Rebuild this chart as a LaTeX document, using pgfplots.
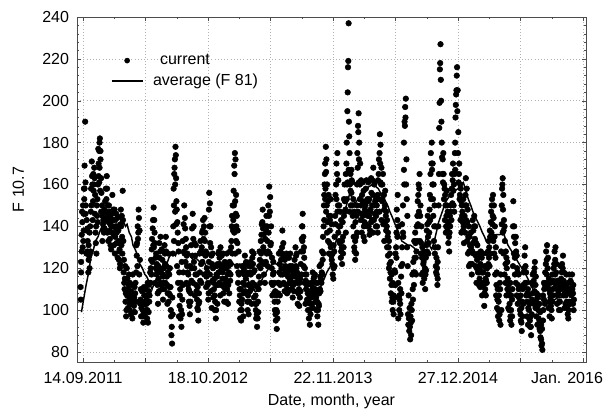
\documentclass[border=0pt]{standalone}
\usepackage{fontspec}
\setmainfont{Liberation Sans}
\usepackage{pgfplots}
\usepackage{pgfplotstable}
\pgfplotsset{compat=1.18}
\pgfplotstableread{
d v
-8 111
-6 118
-4 128
-2 142
0 150
2 146
3 158
5 169
7 190
9 150
12 143
15 133
18 124
21 120
24 128
27 150
30 160
33 165
36 168
39 155
42 140
45 145
48 160
50 170
52 176
53 180
54 182
56 172
58 163
61 150
64 141
67 137
70 145
73 158
76 164
79 150
82 142
85 138
88 131
91 140
94 155
97 148
100 143
103 135
106 146
109 140
112 132
115 124
118 120
121 148
124 145
127 157
130 118
133 110
136 104
139 100
142 115
145 110
148 106
151 103
154 98
157 112
160 108
163 102
166 99
169 104
172 126
175 140
178 148
181 138
184 105
187 101
190 97
193 94
196 107
199 103
202 100
205 96
208 94
211 109
214 113
217 120
220 129
223 139
226 149
229 137
232 125
235 117
238 112
241 121
244 132
247 128
250 118
253 110
256 105
259 120
262 127
265 135
268 116
271 108
274 104
277 111
280 111
283 88
285 84
287 98
290 158
292 165
294 172
296 178
298 163
300 148
303 137
306 128
309 102
312 96
315 92
318 105
321 118
324 150
327 139
330 130
333 121
336 112
339 104
342 98
345 108
348 120
351 146
354 140
357 132
360 117
363 109
366 101
369 95
372 104
375 114
378 122
381 137
384 143
387 140
390 133
393 128
396 120
399 112
402 108
404 156
406 151
408 140
410 130
413 122
416 120
419 110
422 100
425 96
428 112
431 122
434 118
437 125
440 130
443 121
446 115
449 108
452 104
455 115
458 120
461 110
464 103
467 118
470 128
473 122
476 140
479 150
482 157
484 169
486 175
488 172
490 155
492 145
495 138
498 128
501 110
504 100
506 95
509 105
512 113
515 120
518 126
521 115
524 108
527 100
530 98
533 112
536 123
539 121
542 125
545 118
548 112
551 103
554 96
557 92
560 104
563 116
566 124
569 133
572 141
575 148
578 136
581 128
584 140
587 145
590 133
593 150
596 159
599 154
602 140
605 125
608 117
611 108
614 100
617 95
620 91
623 104
626 113
629 122
632 128
635 120
638 138
641 132
644 126
647 118
650 112
653 108
656 116
659 125
662 121
665 114
668 110
671 106
674 118
677 124
680 130
683 120
686 113
689 108
692 102
695 115
698 128
701 140
703 146
705 135
708 125
711 117
714 110
717 105
720 100
723 96
726 93
729 108
732 112
735 118
738 115
741 110
744 104
747 100
750 97
753 93
756 108
759 116
762 122
765 128
768 135
771 150
773 160
775 170
777 178
779 172
781 160
784 152
787 145
790 138
793 130
796 124
799 117
802 120
805 135
808 155
811 170
814 175
817 162
820 150
823 140
826 128
829 122
832 135
835 145
838 152
841 165
844 180
846 195
847 204
848 216
849 219
850 237
851 190
853 175
856 165
859 156
862 150
865 140
868 130
871 124
874 135
876 150
878 175
880 188
882 194
884 180
887 170
890 162
893 155
896 145
899 140
902 148
905 158
908 152
911 145
914 140
917 136
920 148
923 156
926 162
929 168
932 160
935 152
938 145
941 140
944 162
947 172
950 184
952 179
955 168
958 160
961 155
964 148
967 142
970 138
973 130
976 126
979 120
982 115
985 108
988 104
991 100
994 98
997 106
1000 112
1003 125
1006 135
1009 96
1012 100
1015 110
1018 116
1021 130
1024 150
1027 180
1029 190
1031 197
1033 201
1035 172
1038 145
1041 93
1044 90
1047 86
1050 88
1053 95
1056 105
1059 112
1062 118
1065 125
1068 140
1071 152
1074 160
1077 165
1080 150
1083 140
1086 130
1089 122
1092 115
1095 110
1098 119
1101 128
1104 135
1107 142
1110 155
1113 175
1116 180
1119 170
1122 160
1125 150
1128 140
1131 125
1134 112
1136 130
1138 150
1140 187
1141 199
1142 215
1143 218
1144 227
1146 200
1148 180
1151 172
1154 165
1157 158
1160 150
1163 145
1166 138
1169 132
1172 128
1175 140
1178 155
1181 165
1184 170
1187 160
1190 175
1192 192
1194 203
1196 212
1197 216
1199 205
1201 185
1204 170
1207 160
1210 152
1213 145
1216 138
1219 132
1222 150
1225 163
1228 158
1231 148
1234 140
1237 135
1240 128
1243 122
1246 128
1249 138
1252 145
1255 140
1258 132
1261 124
1264 118
1267 112
1270 120
1273 128
1276 125
1279 118
1282 112
1285 108
1288 115
1291 120
1294 127
1297 122
1300 130
1303 135
1306 147
1309 153
1312 155
1315 150
1318 140
1321 130
1324 118
1327 110
1330 104
1333 98
1336 93
1339 100
1341 158
1343 163
1345 155
1347 143
1350 133
1353 128
1356 120
1359 115
1362 108
1365 103
1368 97
1371 93
1374 110
1377 152
1380 140
1383 132
1386 128
1389 120
1392 112
1395 106
1398 100
1401 95
1404 90
1407 110
1410 118
1413 126
1416 121
1419 113
1422 108
1425 101
1428 96
1431 92
1434 88
1437 105
1440 112
1443 118
1446 123
1449 116
1452 108
1455 102
1458 96
1461 91
1464 87
1467 83
1470 81
1473 100
1476 110
1479 118
1482 128
1485 131
1488 125
1491 115
1494 108
1497 102
1500 96
1503 110
1506 120
1509 128
1512 130
1515 122
1518 114
1521 108
1524 104
1527 100
1530 115
1533 122
1536 126
1539 118
1542 112
1545 107
1548 104
1551 98
1554 100
1557 110
1560 114
1563 107
1566 110
1569 112
1571 105
}\current
\pgfplotstableread{
d v
-7 105
-4 136
-1 130
2 138
5 158
8 146
11 138
14 128
17 118
20 126
23 140
26 158
29 164
32 152
35 160
38 146
41 132
44 150
47 142
50 164
53 168
56 176
59 156
62 145
65 138
68 148
71 152
74 144
77 158
80 146
83 150
86 134
89 144
92 146
95 140
98 136
101 148
104 140
107 132
110 144
113 138
116 128
119 122
122 140
125 135
128 143
131 124
134 115
137 108
140 120
143 104
146 112
149 100
152 108
155 104
158 96
161 112
164 106
167 108
170 118
173 132
176 134
179 144
182 124
185 110
188 104
191 100
194 98
197 103
200 110
203 105
206 100
209 112
212 104
215 118
218 124
221 134
224 143
227 130
230 132
233 120
236 122
239 108
242 115
245 125
248 135
251 112
254 124
257 116
260 110
263 122
266 128
269 112
272 118
275 108
278 120
281 100
284 92
286 106
289 140
291 150
293 168
295 160
297 174
299 152
302 142
305 132
308 118
311 110
314 100
317 98
320 112
323 128
326 144
329 134
332 126
335 118
338 110
341 102
344 104
347 114
350 126
353 134
356 120
359 126
362 112
365 105
368 100
371 108
374 118
377 128
380 130
383 138
386 134
389 144
392 126
395 116
398 118
401 105
403 148
405 140
407 132
411 126
414 114
417 106
420 115
423 104
426 100
429 116
432 112
435 128
438 122
441 112
444 126
447 118
450 112
453 120
456 110
459 104
462 122
465 112
468 108
471 114
474 130
477 145
480 138
483 150
485 165
487 152
489 146
491 140
494 132
497 118
500 104
503 96
505 110
508 100
511 118
514 108
517 112
520 122
523 118
526 104
529 112
532 104
535 118
538 110
541 128
544 122
547 106
550 112
553 100
556 98
559 96
562 110
565 128
568 120
571 136
574 142
577 130
580 122
583 134
586 138
589 140
592 128
595 145
598 147
601 132
604 120
607 112
610 118
613 104
616 98
619 100
622 96
625 108
628 118
631 112
634 124
637 130
640 126
643 120
646 124
649 112
652 118
655 110
658 120
661 115
664 120
667 116
670 112
673 112
676 120
679 116
682 126
685 118
688 114
691 110
694 106
697 122
700 134
702 140
704 128
707 130
710 120
713 114
716 112
719 108
722 104
725 100
728 98
731 106
734 110
737 108
740 116
743 110
746 106
749 104
752 100
755 102
758 110
761 115
764 118
767 124
770 140
772 155
774 165
776 158
778 166
780 150
783 142
786 155
789 132
792 145
795 126
798 122
801 115
804 128
807 145
810 160
813 165
816 150
819 140
822 132
825 125
828 130
831 142
834 130
837 160
840 148
843 170
845 160
852 183
854 160
857 150
860 162
863 145
866 135
869 128
872 142
875 145
877 160
879 168
881 185
883 172
886 160
889 150
892 146
895 152
898 135
901 142
904 150
907 162
910 140
913 152
916 145
919 138
922 142
925 150
928 155
931 150
934 146
937 140
940 150
943 155
946 165
949 175
951 170
954 160
957 152
960 165
963 155
966 150
969 145
972 140
975 135
978 130
981 122
984 118
987 112
990 106
993 104
996 112
999 118
1002 130
1004 148
1007 155
1010 140
1013 105
1016 98
1019 108
1022 122
1025 135
1028 160
1030 188
1032 192
1034 160
1037 130
1040 98
1043 96
1046 92
1049 94
1052 100
1055 110
1058 118
1061 125
1064 132
1067 128
1070 145
1073 155
1076 158
1079 145
1082 132
1085 125
1088 118
1091 128
1094 120
1097 125
1100 138
1103 145
1106 132
1109 148
1112 165
1115 170
1118 160
1121 145
1124 140
1127 130
1130 118
1133 120
1135 115
1137 140
1139 165
1145 210
1147 190
1150 165
1153 175
1156 160
1159 155
1162 140
1165 150
1168 142
1171 135
1174 145
1177 150
1180 158
1183 162
1186 150
1189 165
1191 180
1193 198
1195 205
1198 195
1200 175
1203 165
1206 155
1209 158
1212 150
1215 142
1218 140
1221 145
1224 155
1227 150
1230 142
1233 135
1236 128
1239 122
1242 130
1245 122
1248 132
1251 140
1254 134
1257 126
1260 120
1263 125
1266 118
1269 115
1272 122
1275 118
1278 112
1281 118
1284 102
1287 110
1290 114
1293 120
1296 128
1299 125
1302 138
1305 142
1308 150
1311 145
1314 144
1317 135
1320 125
1323 112
1326 105
1329 100
1332 95
1335 110
1338 128
1340 150
1342 160
1344 148
1346 138
1349 140
1352 122
1355 125
1358 110
1361 112
1364 100
1367 95
1370 100
1373 105
1376 140
1379 135
1382 125
1385 135
1388 126
1391 118
1394 110
1397 104
1400 98
1403 94
1406 104
1409 112
1412 120
1415 130
1418 118
1421 104
1424 110
1427 100
1430 95
1433 92
1436 98
1439 108
1442 114
1445 120
1448 112
1451 104
1454 106
1457 100
1460 94
1463 90
1466 86
1469 84
1472 95
1475 105
1478 112
1481 122
1484 124
1487 120
1490 110
1493 104
1496 106
1499 100
1502 104
1505 114
1508 122
1511 124
1514 118
1517 110
1520 112
1523 100
1526 104
1529 110
1532 118
1535 120
1538 114
1541 108
1544 110
1547 112
1550 102
1553 96
1556 104
1559 108
1562 110
1565 104
1568 108
1570 100
}\currentb
\pgfplotstableread{
d v
-6 123
-3 147
1 133
4 153
8 161
11 127
14 139
18 131
21 137
25 147
28 171
31 143
34 157
37 163
40 137
43 127
46 153
49 177
52 161
55 157
58 147
62 133
65 143
69 139
72 147
75 153
78 137
81 133
84 147
87 141
90 129
93 137
96 143
99 131
102 127
105 139
108 137
111 125
114 133
117 129
120 141
123 131
126 127
129 133
132 113
135 121
138 97
141 107
144 101
147 117
150 113
153 109
156 103
159 117
162 99
165 111
168 113
171 131
174 121
177 137
180 117
183 103
186 97
189 109
192 103
195 111
198 97
201 107
204 103
207 113
210 99
213 107
216 113
219 117
222 123
225 131
228 143
231 113
234 127
237 119
240 103
243 109
246 119
249 113
252 129
255 117
258 113
261 131
264 113
267 121
270 103
273 127
276 117
279 107
282 97
288 127
291 133
295 147
298 141
301 121
304 113
307 97
310 107
313 113
316 123
319 133
322 141
325 127
328 123
331 113
334 127
337 117
340 109
343 121
346 131
349 139
352 113
355 123
358 107
361 131
364 117
367 111
370 103
373 127
376 133
379 113
382 123
385 127
388 117
391 137
394 111
397 127
400 113
403 123
406 117
409 109
412 101
415 127
418 113
421 107
424 121
427 117
430 103
433 127
436 113
439 107
442 119
445 121
448 127
451 111
454 123
457 113
460 127
463 117
466 121
469 123
472 117
475 133
478 127
481 143
484 137
487 127
490 133
493 121
496 113
499 117
502 107
507 103
510 121
513 97
516 117
519 109
522 123
525 117
528 107
531 121
534 109
537 117
540 103
543 113
546 127
549 119
552 107
555 103
558 111
561 99
564 121
567 113
570 127
573 123
576 139
579 117
582 113
585 123
588 127
591 121
594 137
597 127
600 131
603 113
606 107
609 123
612 113
615 109
618 107
621 99
624 113
627 127
630 107
633 117
636 127
639 117
642 113
645 109
648 121
651 127
654 117
657 109
660 113
663 127
666 119
669 121
672 117
675 109
678 113
681 121
684 127
687 103
690 117
693 113
696 109
699 117
702 133
706 121
709 113
712 103
715 117
718 113
721 109
724 107
727 103
730 113
733 103
736 101
739 107
742 117
745 113
748 109
751 113
754 103
757 121
760 109
763 113
766 117
769 127
772 143
775 153
778 147
781 137
784 133
787 127
790 143
793 153
796 141
799 127
802 131
805 121
808 141
811 153
814 147
817 137
820 133
823 147
826 143
829 133
832 127
835 153
838 147
841 137
844 153
847 161
850 167
853 147
856 157
859 167
862 161
865 153
868 147
871 133
874 127
877 137
880 147
883 161
886 153
889 143
892 137
895 161
898 157
901 133
904 141
907 147
910 153
913 161
916 153
919 147
922 163
925 143
928 137
931 143
934 161
937 153
940 147
943 137
946 153
949 147
952 161
955 143
958 153
961 141
964 133
967 157
970 147
973 143
976 137
979 133
982 127
985 123
988 117
991 113
994 107
997 119
1000 127
1003 137
1006 143
1009 113
1012 107
1015 103
1018 121
1021 141
1024 137
1027 167
1036 153
1039 121
1042 107
1045 101
1048 97
1051 103
1054 117
1057 123
1060 133
1063 137
1066 117
1069 133
1072 141
1075 147
1078 133
1081 127
1084 117
1087 113
1090 123
1093 127
1096 117
1099 131
1102 141
1105 127
1108 137
1111 143
1114 153
1117 167
1120 153
1123 133
1126 127
1129 121
1132 117
1135 123
1149 173
1152 161
1155 153
1158 143
1161 137
1164 157
1167 147
1170 141
1173 137
1176 147
1179 143
1182 151
1185 157
1188 147
1191 167
1202 161
1205 153
1208 143
1211 137
1214 147
1217 153
1220 143
1223 137
1226 143
1229 133
1232 127
1235 121
1238 131
1241 137
1244 117
1247 143
1250 127
1253 133
1256 121
1259 113
1262 131
1265 127
1268 121
1271 111
1274 113
1277 107
1280 127
1283 113
1286 121
1289 107
1292 113
1295 117
1298 133
1301 121
1304 127
1307 137
1310 141
1313 133
1316 127
1319 117
1322 107
1325 101
1328 97
1331 107
1334 113
1337 117
1340 141
1343 137
1346 127
1349 117
1352 113
1355 107
1358 123
1361 101
1364 107
1367 113
1370 107
1373 97
1376 121
1379 127
1382 117
1385 113
1388 107
1391 103
1394 117
1397 111
1400 107
1403 101
1406 97
1409 103
1412 111
1415 113
1418 107
1421 97
1424 93
1427 107
1430 103
1433 97
1436 113
1439 117
1442 103
1445 109
1448 101
1451 97
1454 93
1457 107
1460 103
1463 99
1466 93
1469 91
1472 107
1475 113
1478 103
1481 113
1484 117
1487 111
1490 101
1493 97
1496 113
1499 107
1502 117
1505 107
1508 113
1511 117
1514 111
1517 103
1520 107
1523 111
1526 113
1529 121
1532 111
1535 113
1538 107
1541 101
1544 103
1547 117
1550 109
1553 113
1556 117
1559 103
1562 113
1565 117
1568 103
}\currentc
\pgfplotstableread{
d v
-5 99
3 106
10 112
18 118
25 125
32 128
40 133
48 135
55 138
61 140
68 141
75 143
80 142
86 145
93 143
100 143
108 142
114 145
119 144
126 141
130 142
136 140
141 141
148 137
155 135
160 131
167 129
175 126
182 122
190 120
198 117
204 116
210 114
215 112
221 110
228 113
235 115
244 117
253 121
262 123
268 122
275 125
283 127
290 127
296 126
301 128
310 128
320 127
330 127
343 126
352 124
360 125
374 123
386 124
393 121
400 120
410 121
420 121
430 120
440 121
450 122
460 121
470 123
481 122
492 121
502 122
508 120
515 118
522 116
529 114
537 112
545 111
550 109
556 109
566 112
577 116
590 119
600 121
609 123
618 122
630 121
640 122
652 121
662 120
673 119
682 117
690 116
700 115
710 114
720 112
730 111
740 110
752 109
758 110
763 112
772 115
780 118
788 120
796 122
804 128
812 135
822 140
832 144
843 150
854 156
862 153
870 151
880 153
888 155
896 156
905 157
915 159
928 160
937 159
945 158
952 156
960 154
968 152
975 150
982 147
988 145
996 142
1004 139
1012 136
1020 133
1030 132
1040 131
1048 131
1057 130
1064 129
1070 128
1078 127
1084 127
1088 129
1092 131
1096 133
1100 135
1104 133
1108 131
1112 130
1116 129
1124 133
1132 138
1138 142
1145 145
1152 148
1158 151
1166 153
1175 155
1182 156
1190 157
1200 158
1208 160
1217 161
1225 157
1233 153
1241 150
1250 146
1260 143
1270 140
1278 137
1285 135
1290 133
1297 132
1303 133
1310 134
1316 135
1322 136
1333 136
1345 137
1352 134
1360 131
1368 129
1377 127
1388 124
1400 121
1410 119
1420 116
1430 113
1440 110
1448 108
1457 106
1468 105
1480 105
1490 104
1500 105
1510 105
1520 106
1532 106
1538 107
1545 108
1556 109
}\average
\begin{document}
\begin{tikzpicture}
\begin{axis}[
  scale only axis,
  width=381.75pt, height=258.75pt,
  xmin=-19.2, xmax=1609.6,
  ymin=75.2, ymax=240,
  xtick={0,200,...,1600},
  xticklabels={14.09.2011,,18.10.2012,,22.11.2013,,27.12.2014,,},
  extra x ticks={1549},
  extra x tick labels={Jan. 2016},
  extra x tick style={grid=none, major tick length=0pt},
  ytick={80,100,...,240},
  minor x tick num=1,
  minor y tick num=4,
  major tick length=3pt,
  minor tick length=1.5pt,
  tick style={black!70},
  axis line style={black!70},
  grid=major,
  major grid style={dotted, black!30},
  tick label style={font=\fontsize{12}{14}\selectfont},
  /pgf/number format/assume math mode=true,
  xticklabel style={yshift=-4pt},
  yticklabel style={xshift=-2.5pt},
  xlabel={Date, month, year},
  ylabel={F 10.7},
  label style={font=\fontsize{12}{14}\selectfont},
  xlabel style={at={(axis description cs:0.5,0)}, anchor=center, yshift=-29.25pt},
  ylabel style={at={(axis description cs:0,0.5)}, anchor=center, yshift=44pt},
  legend style={draw=none, fill=none, at={(axis description cs:0.066,0.9)}, anchor=north west,
    font=\fontsize{12}{14}\selectfont, row sep=1.5pt, inner sep=0pt},
  legend cell align=left,
]
\addplot[only marks, mark=*, mark size=2.1pt, black,
  legend image code/.code={\fill[black] (0.41cm,0cm) circle (1.9pt);}]
  table[x=d, y=v] {\current};
\addlegendentry{\hspace{10.5pt}current}
\addplot[only marks, mark=*, mark size=2.1pt, black, forget plot]
  table[x=d, y=v] {\currentb};
\addplot[only marks, mark=*, mark size=2.1pt, black, forget plot]
  table[x=d, y=v] {\currentc};
\addplot[black, line width=1.1pt, no marks,
  legend image code/.code={\draw[black, line width=1.1pt] (0cm,0cm) -- (0.82cm,0cm);}]
  table[x=d, y=v] {\average};
\addlegendentry{\hspace{5.25pt}average (F 81)}
\end{axis}
\pgfresetboundingbox
\path[use as bounding box] (-57.75pt,-39.75pt) rectangle (399.75pt,271.5pt);
\end{tikzpicture}
\end{document}
